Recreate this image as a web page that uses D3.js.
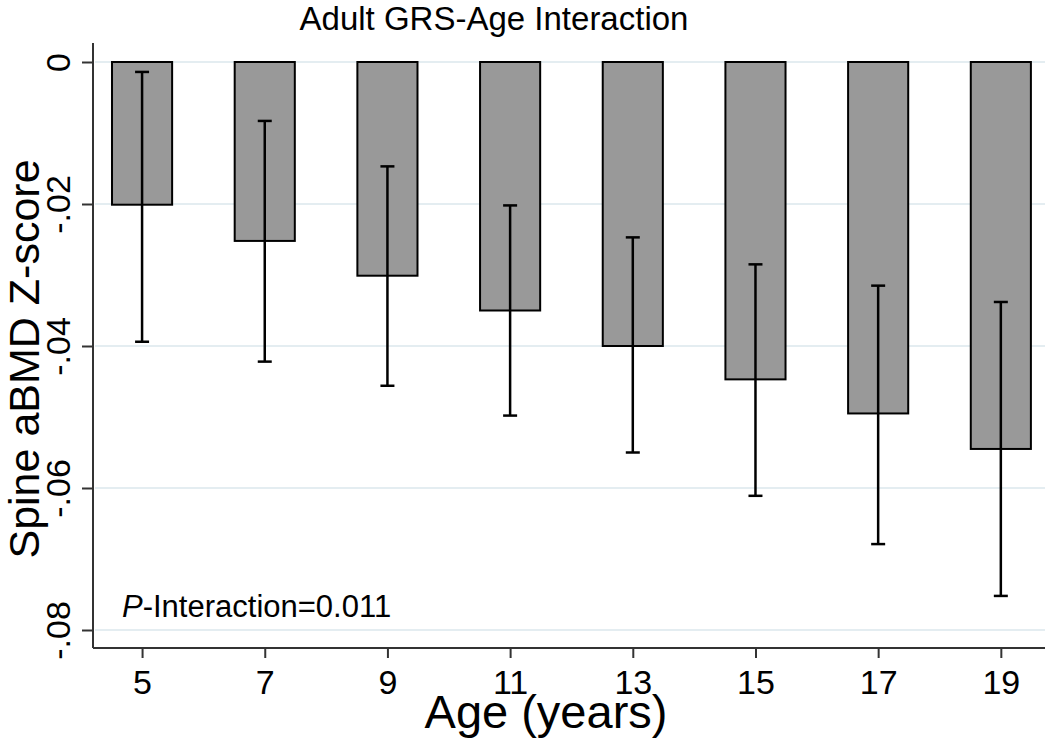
<!DOCTYPE html>
<html>
<head>
<meta charset="utf-8">
<script src="https://cdn.jsdelivr.net/npm/d3@7"></script>
<style>
  html, body { margin: 0; padding: 0; background: #fff; }
  svg { display: block; }
  text { font-family: "Liberation Sans", Arial, sans-serif; fill: #000; }
</style>
</head>
<body>
<svg id="chart" width="1050" height="741"></svg>
<script>
// ---- data ----
const ages = [5, 7, 9, 11, 13, 15, 17, 19];
const estimates = [-0.0201, -0.0252, -0.0301, -0.0350, -0.0400, -0.0447, -0.0495, -0.0545];
const ciLower = [-0.0394, -0.0422, -0.0456, -0.0498, -0.0550, -0.0611, -0.0679, -0.0752];
const ciUpper = [-0.0014, -0.0083, -0.0147, -0.0202, -0.0247, -0.0285, -0.0315, -0.0338];
const yTicks = [0, -0.02, -0.04, -0.06, -0.08];
const yTickLabels = ["0", "-.02", "-.04", "-.06", "-.08"];
const titleText = "Adult GRS-Age Interaction";
const xTitle = "Age (years)";
const yTitle = "Spine aBMD Z-score";

// ---- layout ----
const svg = d3.select("#chart");
const plotLeft = 93, plotRight = 1045, plotTop = 43, plotBottom = 648;

const x = d3.scaleLinear().domain([4.2, 19.72]).range([plotLeft, plotRight]);
const y = d3.scaleLinear().domain([0, -0.08]).range([62, 630]);
const barHalf = 0.49;

// gridlines
svg.append("g").selectAll("line").data(yTicks).join("line")
  .attr("x1", plotLeft + 2).attr("x2", plotRight)
  .attr("y1", d => y(d)).attr("y2", d => y(d))
  .attr("stroke", "#e4edf1").attr("stroke-width", 2);

const rows = ages.map((a, i) => ({ age: a, est: estimates[i], lo: ciLower[i], hi: ciUpper[i] }));

// bars
svg.append("g").selectAll("rect").data(rows).join("rect")
  .attr("x", d => x(d.age - barHalf))
  .attr("width", d => x(d.age + barHalf) - x(d.age - barHalf))
  .attr("y", d => y(0))
  .attr("height", d => y(d.est) - y(0))
  .attr("fill", "#999999")
  .attr("stroke", "#000").attr("stroke-width", 2);

// error bars
const eb = svg.append("g").attr("stroke", "#000").attr("stroke-width", 2.5);
eb.selectAll("line.v").data(rows).join("line").attr("class", "v")
  .attr("x1", d => x(d.age)).attr("x2", d => x(d.age))
  .attr("y1", d => y(d.hi)).attr("y2", d => y(d.lo));
const capHalf = 7;
eb.selectAll("line.ct").data(rows).join("line").attr("class", "ct")
  .attr("x1", d => x(d.age) - capHalf).attr("x2", d => x(d.age) + capHalf)
  .attr("y1", d => y(d.hi)).attr("y2", d => y(d.hi));
eb.selectAll("line.cb").data(rows).join("line").attr("class", "cb")
  .attr("x1", d => x(d.age) - capHalf).attr("x2", d => x(d.age) + capHalf)
  .attr("y1", d => y(d.lo)).attr("y2", d => y(d.lo));

// x axis
const xAxis = d3.axisBottom(x).tickValues(ages).tickSize(10).tickPadding(12).tickSizeOuter(0)
  .tickFormat(d3.format("d"));
const gx = svg.append("g").attr("transform", `translate(0,${plotBottom})`).call(xAxis);
gx.select(".domain").attr("stroke", "#333").attr("stroke-width", 2)
  .attr("d", `M${plotLeft},0H${plotRight}`);
gx.selectAll(".tick line").attr("stroke", "#333").attr("stroke-width", 2);
gx.selectAll(".tick text").attr("font-size", 34).attr("font-family", "Liberation Sans, Arial, sans-serif")
  .attr("fill", "#000").attr("dy", "0.71em");

// y axis
const yAxis = d3.axisLeft(y).tickValues(yTicks).tickSize(11).tickSizeOuter(0)
  .tickFormat((d, i) => yTickLabels[i]);
const gy = svg.append("g").attr("transform", `translate(${plotLeft},0)`).call(yAxis);
gy.select(".domain").attr("stroke", "#333").attr("stroke-width", 2)
  .attr("d", `M0,${plotTop}V${plotBottom}`);
gy.selectAll(".tick line").attr("stroke", "#333").attr("stroke-width", 2);
gy.selectAll(".tick text")
  .attr("font-size", 34).attr("font-family", "Liberation Sans, Arial, sans-serif").attr("fill", "#000")
  .attr("x", null).attr("dy", null)
  .attr("text-anchor", "middle")
  .attr("transform", "translate(-23,0) rotate(-90)");

// title
svg.append("text").attr("x", 494).attr("y", 30).attr("text-anchor", "middle")
  .attr("font-size", 33).text(titleText);

// axis titles
svg.append("text").attr("x", 546).attr("y", 728).attr("text-anchor", "middle")
  .attr("font-size", 47).text(xTitle);
svg.append("text").attr("transform", "translate(39,359) rotate(-90)").attr("text-anchor", "middle")
  .attr("font-size", 43).text(yTitle);

// annotation
const ann = svg.append("text").attr("x", 122).attr("y", 617).attr("font-size", 31);
ann.append("tspan").attr("font-style", "italic").text("P");
ann.append("tspan").text("-Interaction=0.011");
</script>
</body>
</html>
